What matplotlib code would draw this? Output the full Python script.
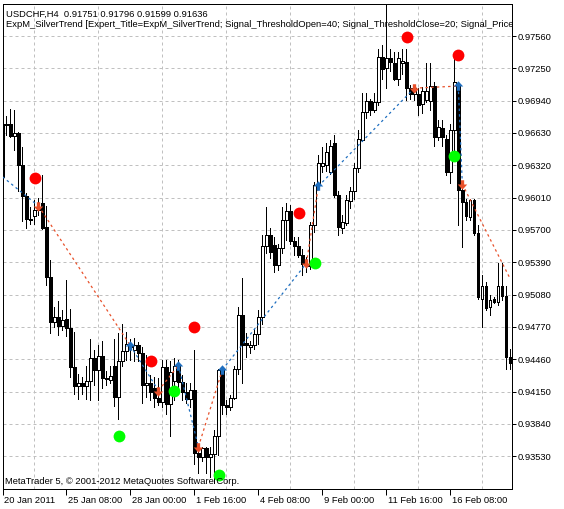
import numpy as np
import matplotlib
matplotlib.use("Agg")
import matplotlib.pyplot as plt
import matplotlib.transforms as mtransforms


# USDCHF H4 candles, bar 0 = 20 Jan 2011 16:00 #

opens = [0.9672, 0.9672, 0.9672, 0.9660, 0.9663, 0.9632, 0.9603, 0.9581, 0.9583, 0.9589,
         0.9596, 0.9573, 0.9525, 0.9482, 0.9487, 0.9478, 0.9485, 0.9476, 0.9439, 0.9420,
         0.9423, 0.9420, 0.9425, 0.9447, 0.9436, 0.9449, 0.9427, 0.9426, 0.9440, 0.9410,
         0.9444, 0.9454, 0.9458, 0.9455, 0.9460, 0.9452, 0.9421, 0.9423, 0.9418, 0.9409,
         0.9405, 0.9439, 0.9403, 0.9425, 0.9440, 0.9424, 0.9415, 0.9408, 0.9417, 0.9356,
         0.9352, 0.9361, 0.9352, 0.9355, 0.9372, 0.9436, 0.9402, 0.9400, 0.9409, 0.9437,
         0.9488, 0.9462, 0.9458, 0.9460, 0.9470, 0.9487, 0.9555, 0.9565, 0.9556, 0.9536,
         0.9553, 0.9580, 0.9588, 0.9559, 0.9555, 0.9546, 0.9537, 0.9535, 0.9575, 0.9613,
         0.9631, 0.9632, 0.9626, 0.9653, 0.9604, 0.9572, 0.9577, 0.9598, 0.9607, 0.9629,
         0.9656, 0.9683, 0.9694, 0.9685, 0.9693, 0.9736, 0.9725, 0.9735, 0.9730, 0.9715,
         0.9730, 0.9731, 0.9706, 0.9700, 0.9700, 0.9691, 0.9695, 0.9694, 0.9708, 0.9659,
         0.9668, 0.9657, 0.9626, 0.9666, 0.9709, 0.9608, 0.9597, 0.9582, 0.9599, 0.9567,
         0.9504, 0.9516, 0.9496, 0.9504, 0.9501, 0.9516, 0.9507, 0.9448]
highs = [0.9675, 0.9679, 0.9686, 0.9685, 0.9664, 0.9650, 0.9605, 0.9592, 0.9599, 0.9601,
         0.9623, 0.9593, 0.9541, 0.9496, 0.9502, 0.9493, 0.9522, 0.9494, 0.9472, 0.9432,
         0.9429, 0.9440, 0.9465, 0.9455, 0.9460, 0.9464, 0.9435, 0.9440, 0.9465, 0.9471,
         0.9480, 0.9472, 0.9465, 0.9466, 0.9463, 0.9458, 0.9450, 0.9431, 0.9429, 0.9428,
         0.9445, 0.9445, 0.9444, 0.9447, 0.9445, 0.9431, 0.9423, 0.9423, 0.9455, 0.9365,
         0.9362, 0.9362, 0.9362, 0.9378, 0.9437, 0.9439, 0.9407, 0.9412, 0.9440, 0.9496,
         0.9524, 0.9471, 0.9464, 0.9475, 0.9493, 0.9565, 0.9592, 0.9572, 0.9563, 0.9557,
         0.9592, 0.9596, 0.9594, 0.9563, 0.9563, 0.9552, 0.9544, 0.9578, 0.9616, 0.9642,
         0.9650, 0.9653, 0.9656, 0.9661, 0.9607, 0.9584, 0.9604, 0.9611, 0.9634, 0.9666,
         0.9701, 0.9701, 0.9696, 0.9701, 0.9744, 0.9747, 0.9786, 0.9744, 0.9741, 0.9741,
         0.9744, 0.9744, 0.9709, 0.9709, 0.9706, 0.9707, 0.9730, 0.9730, 0.9712, 0.9675,
         0.9675, 0.9661, 0.9672, 0.9738, 0.9712, 0.9615, 0.9600, 0.9600, 0.9600, 0.9575,
         0.9527, 0.9520, 0.9508, 0.9506, 0.9538, 0.9538, 0.9516, 0.9456]
lows = [0.9618, 0.9661, 0.9659, 0.9647, 0.9607, 0.9579, 0.9572, 0.9576, 0.9576, 0.9584,
        0.9571, 0.9517, 0.9471, 0.9477, 0.9469, 0.9474, 0.9468, 0.9429, 0.9413, 0.9408,
        0.9413, 0.9408, 0.9407, 0.9421, 0.9407, 0.9418, 0.9421, 0.9423, 0.9401, 0.9389,
        0.9440, 0.9445, 0.9445, 0.9444, 0.9444, 0.9404, 0.9410, 0.9407, 0.9400, 0.9402,
        0.9400, 0.9394, 0.9372, 0.9407, 0.9413, 0.9407, 0.9404, 0.9400, 0.9346, 0.9337,
        0.9348, 0.9337, 0.9333, 0.9327, 0.9354, 0.9394, 0.9394, 0.9397, 0.9408, 0.9432,
        0.9423, 0.9448, 0.9452, 0.9456, 0.9461, 0.9480, 0.9548, 0.9543, 0.9530, 0.9532,
        0.9548, 0.9560, 0.9557, 0.9546, 0.9544, 0.9527, 0.9530, 0.9533, 0.9568, 0.9610,
        0.9626, 0.9627, 0.9624, 0.9602, 0.9565, 0.9567, 0.9575, 0.9591, 0.9600, 0.9626,
        0.9655, 0.9677, 0.9680, 0.9683, 0.9690, 0.9715, 0.9706, 0.9722, 0.9714, 0.9709,
        0.9720, 0.9695, 0.9696, 0.9695, 0.9680, 0.9682, 0.9693, 0.9685, 0.9651, 0.9656,
        0.9651, 0.9623, 0.9615, 0.9637, 0.9575, 0.9554, 0.9580, 0.9580, 0.9565, 0.9504,
        0.9477, 0.9493, 0.9488, 0.9500, 0.9498, 0.9503, 0.9437, 0.9437]
closes = [0.9621, 0.9671, 0.9660, 0.9663, 0.9632, 0.9603, 0.9581, 0.9580, 0.9589, 0.9592,
          0.9572, 0.9525, 0.9482, 0.9487, 0.9478, 0.9484, 0.9476, 0.9439, 0.9420, 0.9423,
          0.9420, 0.9425, 0.9447, 0.9436, 0.9449, 0.9428, 0.9428, 0.9430, 0.9410, 0.9444,
          0.9454, 0.9461, 0.9460, 0.9460, 0.9452, 0.9421, 0.9423, 0.9415, 0.9409, 0.9405,
          0.9439, 0.9403, 0.9434, 0.9440, 0.9424, 0.9415, 0.9408, 0.9417, 0.9356, 0.9352,
          0.9361, 0.9352, 0.9355, 0.9372, 0.9436, 0.9402, 0.9400, 0.9409, 0.9437, 0.9488,
          0.9460, 0.9460, 0.9460, 0.9470, 0.9487, 0.9555, 0.9565, 0.9549, 0.9536, 0.9553,
          0.9580, 0.9588, 0.9559, 0.9555, 0.9546, 0.9537, 0.9535, 0.9575, 0.9613, 0.9634,
          0.9634, 0.9645, 0.9651, 0.9604, 0.9573, 0.9578, 0.9599, 0.9607, 0.9629, 0.9657,
          0.9683, 0.9694, 0.9685, 0.9693, 0.9736, 0.9724, 0.9735, 0.9731, 0.9715, 0.9735,
          0.9732, 0.9706, 0.9700, 0.9706, 0.9690, 0.9703, 0.9703, 0.9708, 0.9659, 0.9669,
          0.9659, 0.9626, 0.9666, 0.9712, 0.9608, 0.9597, 0.9583, 0.9599, 0.9567, 0.9506,
          0.9516, 0.9495, 0.9503, 0.9501, 0.9516, 0.9507, 0.9448, 0.9442]

# deals of the tester (bar, price), lines join them
deal_bars = [0, 9, 32, 39, 44, 49, 55, 76, 79, 103, 114, 115, 127]
deal_prices = [0.9621, 0.9593, 0.9459, 0.9416, 0.9440, 0.9362, 0.9436,
               0.9538, 0.9612, 0.9706, 0.9708, 0.9614, 0.9523]

# SilverTrend signal dots
sell_sig_bars = [8.2, 37.1, 48.0, 74.1, 101.1, 114.0]
sell_sig_prices = [0.9620, 0.9444, 0.9477, 0.9586, 0.9755, 0.9738]
buy_sig_bars = [29.2, 43.0, 54.2, 78.2, 113.0]
buy_sig_prices = [0.9372, 0.9416, 0.9335, 0.9538, 0.9641]

time_labels = ["20 Jan 2011", "25 Jan 08:00", "28 Jan 00:00", "1 Feb 16:00",
               "4 Feb 08:00", "9 Feb 00:00", "11 Feb 16:00", "16 Feb 08:00"]
price_levels = [0.97560, 0.97250, 0.96940, 0.96630, 0.96320, 0.96010, 0.95700,
                0.95390, 0.95080, 0.94770, 0.94460, 0.94150, 0.93840, 0.93530]

blue = "#1f6fc0"
red = "#e8502a"
fs = 6.75
plt.rcParams["font.family"] = ["Liberation Sans", "DejaVu Sans"]

fig = plt.figure(figsize=(5.64, 5.09), dpi=100)
W, H = 564, 509
ax = fig.add_axes([2.5 / W, 1 - 489 / H, (512 - 2.5) / W, (489 - 4) / H])

o = np.array(opens)
c = np.array(closes)
x = np.arange(len(o))
up = c >= o

# grid
ax.set_xticks(np.arange(0, 128, 8), minor=True)
ax.grid(True, which="minor", axis="x", color="#c0c0c0", linestyle=(0, (3, 3)), linewidth=0.72)
ax.grid(True, which="major", axis="y", color="#c0c0c0", linestyle=(0, (3, 3)), linewidth=0.72)
ax.set_axisbelow(True)

# candles
ax.vlines(x, lows, highs, color="black", linewidth=0.72, antialiased=False, zorder=2)
body = np.maximum(np.abs(c - o), 0.000001)
ax.bar(x, body, bottom=np.minimum(o, c), width=0.6,
       color=np.where(up, "white", "black"), edgecolor="black",
       linewidth=0.72, antialiased=False, zorder=2)

# deal lines and arrows
for i in range(len(deal_bars) - 1):
    col = blue if i % 2 == 0 else red
    ax.plot(deal_bars[i:i + 2], deal_prices[i:i + 2], color=col,
            linewidth=0.9, linestyle=(0, (2, 2.5)), zorder=3)

up_arrow = [(-1, 0), (0, 1.1), (1, 0), (0.35, 0), (0.35, -0.9), (-0.35, -0.9), (-0.35, 0), (-1, 0)]
down_arrow = [(px, -py) for px, py in up_arrow]
for i in range(1, len(deal_bars) - 1):
    if i % 2 == 0:
        ax.plot(deal_bars[i], deal_prices[i], marker=up_arrow, color=blue,
                markersize=7.5, markeredgewidth=0, zorder=4)
    else:
        ax.plot(deal_bars[i], deal_prices[i], marker=down_arrow, color=red,
                markersize=7.5, markeredgewidth=0, zorder=4)

# signals
ax.plot(sell_sig_bars, sell_sig_prices, "o", color="#ff0000", markersize=8.5,
        markeredgewidth=0, zorder=5)
ax.plot(buy_sig_bars, buy_sig_prices, "o", color="#00ff00", markersize=8.5,
        markeredgewidth=0, zorder=5)

ax.set_xlim(0.05, 127.43)
ax.set_ylim(0.93216, 0.97867)

# axes look
for s in ax.spines.values():
    s.set_linewidth(0.72)
    s.set_color("black")

ax.set_xticks(np.arange(0, 128, 16))
ax.set_xticklabels(time_labels)
ax.tick_params(axis="x", which="major", direction="out", length=4.3, width=0.72,
               pad=0.5, labelsize=fs)
ax.tick_params(axis="x", which="minor", length=0)
offset = mtransforms.ScaledTranslation(0.02, 0, fig.dpi_scale_trans)
for lab in ax.get_xticklabels():
    lab.set_horizontalalignment("left")
    lab.set_transform(lab.get_transform() + offset)

ax.yaxis.tick_right()
ax.set_yticks(price_levels)
ax.set_yticklabels(["%.5f" % p for p in price_levels])
ax.tick_params(axis="y", direction="out", length=3, width=0.72, pad=1, labelsize=fs)

# texts
ax.text(6 / W, 1 - 16.5 / H, "USDCHF,H4  0.91751 0.91796 0.91599 0.91636",
        transform=fig.transFigure, fontsize=fs, va="baseline", clip_on=True, zorder=6)
ax.text(6 / W, 1 - 27 / H,
        "ExpM_SilverTrend [Expert_Title=ExpM_SilverTrend; Signal_ThresholdOpen=40; "
        "Signal_ThresholdClose=20; Signal_PriceLevel=0.0",
        transform=fig.transFigure, fontsize=fs, va="baseline", clip_on=True, zorder=6)
ax.text(5 / W, 1 - 484.5 / H, "MetaTrader 5, \u00a9 2001-2012 MetaQuotes Software Corp.",
        transform=fig.transFigure, fontsize=fs, va="baseline", clip_on=True, zorder=6)

fig.savefig("out.png", dpi=100)
